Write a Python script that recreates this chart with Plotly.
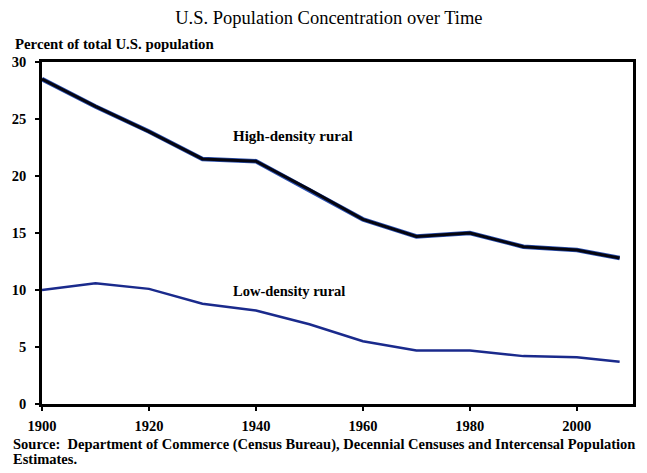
import plotly.graph_objects as go

years = [1900, 1910, 1920, 1930, 1940, 1950, 1960, 1970, 1980, 1990, 2000, 2008]
high_density = [28.5, 26.1, 23.9, 21.5, 21.3, 18.8, 16.2, 14.7, 15.0, 13.8, 13.5, 12.8]
low_density = [10.0, 10.6, 10.1, 8.8, 8.2, 7.0, 5.5, 4.7, 4.7, 4.2, 4.1, 3.7]
x_ticks = [1900, 1920, 1940, 1960, 1980, 2000]
y_ticks = [0, 5, 10, 15, 20, 25, 30]

SERIF = "Liberation Serif, Times New Roman, serif"

fig = go.Figure()
fig.add_trace(go.Scatter(x=years, y=high_density, mode="lines",
                         line=dict(color="#2a4fb0", width=4.5), hoverinfo="skip", showlegend=False))
fig.add_trace(go.Scatter(x=years, y=high_density, mode="lines", name="High-density rural",
                         line=dict(color="#050510", width=3), showlegend=False))
fig.add_trace(go.Scatter(x=years, y=low_density, mode="lines", name="Low-density rural",
                         line=dict(color="#1a2a8c", width=2.5), showlegend=False))

fig.add_annotation(x=1935.3, y=23.5, text="High-density rural", showarrow=False,
                   xanchor="left", yanchor="middle",
                   font=dict(family=SERIF, size=15, color="black", weight="bold"))
fig.add_annotation(x=1935.3, y=9.95, text="Low-density rural", showarrow=False,
                   xanchor="left", yanchor="middle",
                   font=dict(family=SERIF, size=14.5, color="black", weight="bold"))

fig.update_layout(
    width=647, height=473,
    margin=dict(l=34, r=22, t=54, b=77),
    paper_bgcolor="white", plot_bgcolor="white",
    font=dict(family=SERIF, color="black"),
    title=dict(text="U.S. Population Concentration over Time", x=0.496, xanchor="center",
               y=0.979, yanchor="middle", font=dict(family=SERIF, size=18.5, color="black")),
    xaxis=dict(range=[1900, 2010.5], tickvals=x_ticks, showgrid=False, zeroline=False,
               showline=True, linecolor="black", linewidth=2.5, mirror=True,
               ticks="outside", ticklen=4, tickwidth=2, tickcolor="black",
               ticklabelstandoff=3, automargin=False,
               tickfont=dict(family=SERIF, size=14.5, color="black", weight="bold")),
    yaxis=dict(range=[0, 30], tickvals=y_ticks, showgrid=False, zeroline=False,
               showline=True, linecolor="black", linewidth=2.5, mirror=True,
               ticks="outside", ticklen=4, tickwidth=2, tickcolor="black",
               ticklabelstandoff=6, automargin=False,
               tickfont=dict(family=SERIF, size=14.5, color="black", weight="bold")),
)

fig.add_annotation(xref="paper", yref="paper", x=-0.049, y=1.0526, xanchor="left", yanchor="middle",
                   text="Percent of total U.S. population", showarrow=False,
                   font=dict(family=SERIF, size=14.8, color="black", weight="bold"))
fig.add_annotation(xref="paper", yref="paper", x=-0.052, y=-0.117, xanchor="left", yanchor="middle",
                   align="left", showarrow=False,
                   text="Source:  Department of Commerce (Census Bureau), Decennial Censuses and Intercensal Population",
                   font=dict(family=SERIF, size=14.5, color="black", weight="bold"))
fig.add_annotation(xref="paper", yref="paper", x=-0.052, y=-0.162, xanchor="left", yanchor="middle",
                   align="left", showarrow=False, text="Estimates.",
                   font=dict(family=SERIF, size=14.5, color="black", weight="bold"))

fig.write_html("out.html")
